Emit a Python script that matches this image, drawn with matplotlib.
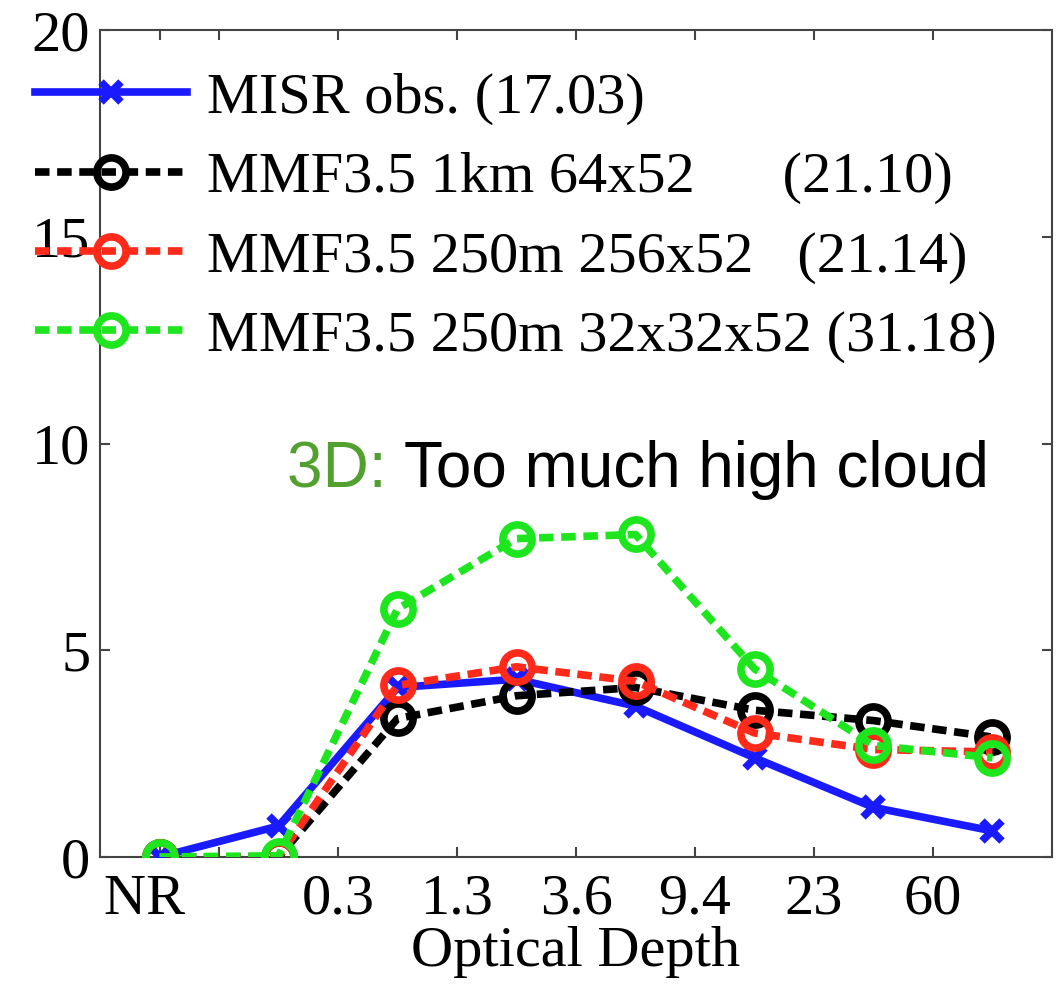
import matplotlib
matplotlib.use("Agg")
import matplotlib.pyplot as plt

# Optical-depth bins (NR = no retrieval) and their boundary labels
bin_index = [1, 2, 3, 4, 5, 6, 7, 8]
tick_pos = [1, 1.5, 2.5, 3.5, 4.5, 5.5, 6.5, 7.5]
tick_labels = ["NR  ", "", "0.3", "1.3", "3.6", "9.4", "23", "60"]

# Cloud fraction (%) per optical-depth bin
misr_obs = [0.0, 0.75, 4.10, 4.30, 3.65, 2.40, 1.20, 0.63]
mmf_1km_64x52 = [0.0, 0.0, 3.35, 3.90, 4.10, 3.55, 3.30, 2.90]
mmf_250m_256x52 = [0.0, 0.0, 4.15, 4.60, 4.25, 3.00, 2.60, 2.54]
mmf_250m_32x32x52 = [0.0, 0.03, 6.00, 7.70, 7.80, 4.55, 2.70, 2.40]

labels = [
    "MISR obs. (17.03)",
    "MMF3.5 1km 64x52      (21.10)",
    "MMF3.5 250m 256x52   (21.14)",
    "MMF3.5 250m 32x32x52 (31.18)",
]

serif = ["Liberation Serif", "DejaVu Serif"]
fs = 42
fig = plt.figure(figsize=(10.61, 10.02), dpi=100)
ax = fig.add_axes([0.0943, 0.1447, 0.8972, 0.8253])

lw = 5.5
dash = (1.9, 1.0)
circ = dict(marker="o", markersize=21, markerfacecolor="none",
            markeredgewidth=5.5)
ax.plot(bin_index, misr_obs, color="#1a1aff", lw=lw, marker="x",
        markersize=15, markeredgewidth=5.5, label=labels[0], zorder=3)
ax.plot(bin_index, mmf_1km_64x52, color="black", lw=lw, dashes=dash,
        label=labels[1], zorder=4, **circ)
ax.plot(bin_index, mmf_250m_256x52, color="#ff2a1a", lw=lw, dashes=dash,
        label=labels[2], zorder=5, **circ)
ax.plot(bin_index, mmf_250m_32x32x52, color="#1ee61e", lw=lw, dashes=dash,
        label=labels[3], zorder=6, **circ)

ax.set_xlim(0.5, 8.5)
ax.set_ylim(0, 20)
ax.set_yticks([0, 5, 10, 15, 20])
ax.set_xticks(tick_pos)
ax.set_xticklabels(tick_labels)

for s in ax.spines.values():
    s.set_color("#444444")
    s.set_linewidth(1.5)
ax.tick_params(direction="in", length=7, width=1.5, color="#444444",
               top=True, right=True, labelsize=fs)
ax.tick_params(axis="y", pad=7)
ax.tick_params(axis="x", pad=12)
for lab in ax.get_xticklabels() + ax.get_yticklabels():
    lab.set_family(serif)

ax.set_xlabel("Optical Depth", fontsize=fs, family=serif, labelpad=0)

ax.legend(loc="upper left", bbox_to_anchor=(35 / 1061, 1 - 72 / 1002),
          bbox_transform=fig.transFigure, frameon=False,
          prop={"family": serif, "size": fs}, handlelength=2.6,
          handletextpad=0.35, labelspacing=0.45, borderpad=0,
          borderaxespad=0)

# Annotation: coloured prefix followed by black text
t1 = ax.text(287, 1002 - 487, "3D: ", transform=None, fontsize=46,
             family="Liberation Sans", color="#52a02e", va="baseline")
ax.annotate("Too much high cloud", xy=(1, 0), xycoords=t1,
            fontsize=46, family="Liberation Sans", color="black",
            va="bottom", ha="left")

fig.savefig("out.png", dpi=100)
